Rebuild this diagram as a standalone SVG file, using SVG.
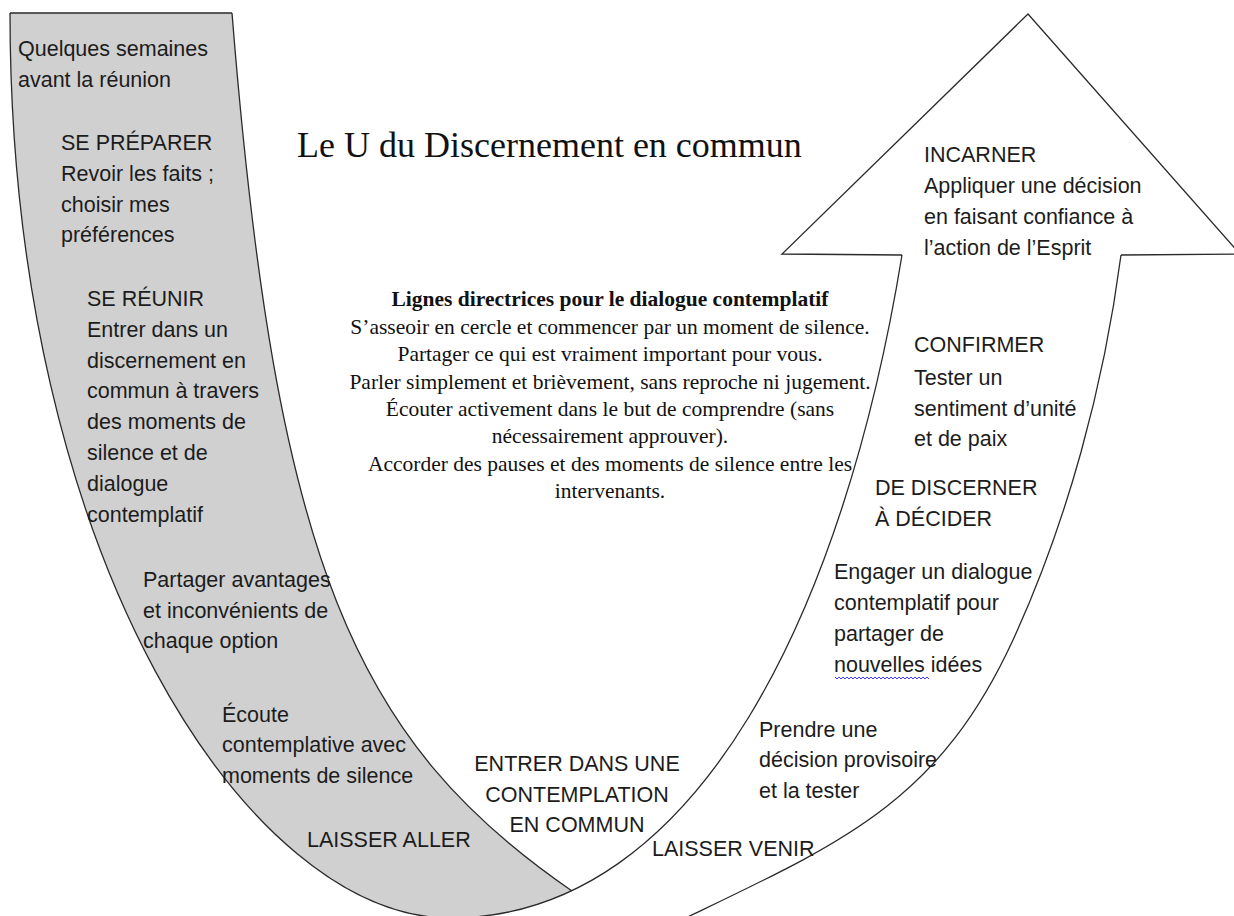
<svg xmlns="http://www.w3.org/2000/svg" width="1234" height="916" viewBox="0 0 1234 916">
<style>
.ln{fill:none;stroke:#2a2a2a;stroke-width:1.3}
.s{font-family:"Liberation Sans",Arial,sans-serif;font-size:21.5px;fill:#1c1c1c}
.t{font-family:"Liberation Serif","Times New Roman",serif;font-size:21.5px;fill:#111}
.b{font-weight:bold}
.ttl{font-family:"Liberation Serif","Times New Roman",serif;font-size:36px;fill:#111}
.c{text-anchor:middle}
</style>
<defs>
<clipPath id="inU">
<path d="M10,13 C10,560 250,918 450,918 C700,918 845,605 902,255 L902,0 L10,0 Z"/>
</clipPath>
</defs>
<rect width="1234" height="916" fill="#fff"/>
<g id="shapes">
<path id="gray-band" d="M10,13 L232,13 C276,563 354,741 572,891 L620,1000 L-20,1000 L-20,13 Z" fill="#d0d0d0" clip-path="url(#inU)"/>
<path id="arrow-head" d="M902,255 L782,254 L1028,14 L1240,254 L1121,255" fill="#fff" class="ln"/>
</g>
<g id="connectors">
<path id="curve-a" class="ln" d="M10,13 C10,560 250,918 450,918 C700,918 845,605 902,255"/>
<path id="top-edge" class="ln" d="M10,13 L232,13"/>
<path id="curve-b" class="ln" d="M232,13 C276,563 354,741 572,891"/>
<path id="curve-c" class="ln" d="M1121,255 C1104,385 1068,520 1013,640 C929,822 820,850 620,950"/>
</g>
<g id="title"><text class="ttl" x="297" y="157">Le U du Discernement en commun</text></g>
<g id="guidelines" class="t c">
<text class="t c b" x="610" y="306">Lignes directrices pour le dialogue contemplatif</text>
<text class="t c" x="610" y="334">S’asseoir en cercle et commencer par un moment de silence.</text>
<text class="t c" x="610" y="361">Partager ce qui est vraiment important pour vous.</text>
<text class="t c" x="610" y="389">Parler simplement et brièvement, sans reproche ni jugement.</text>
<text class="t c" x="610" y="416">Écouter activement dans le but de comprendre (sans</text>
<text class="t c" x="610" y="443">nécessairement approuver).</text>
<text class="t c" x="610" y="471">Accorder des pauses et des moments de silence entre les</text>
<text class="t c" x="610" y="498">intervenants.</text>
</g>
<g id="n-semaines"><text class="s"><tspan x="18" y="56">Quelques semaines</tspan><tspan x="18" y="87">avant la réunion</tspan></text></g>
<g id="n-preparer"><text class="s"><tspan x="61" y="150">SE PRÉPARER</tspan><tspan x="61" y="181">Revoir les faits ;</tspan><tspan x="61" y="212">choisir mes</tspan><tspan x="61" y="242">préférences</tspan></text></g>
<g id="n-reunir"><text class="s"><tspan x="87" y="306">SE RÉUNIR</tspan><tspan x="87" y="337">Entrer dans un</tspan><tspan x="87" y="368">discernement en</tspan><tspan x="87" y="398">commun à travers</tspan><tspan x="87" y="429">des moments de</tspan><tspan x="87" y="460">silence et de</tspan><tspan x="87" y="491">dialogue</tspan><tspan x="87" y="522">contemplatif</tspan></text></g>
<g id="n-partager"><text class="s"><tspan x="143" y="587">Partager avantages</tspan><tspan x="143" y="618">et inconvénients de</tspan><tspan x="143" y="648">chaque option</tspan></text></g>
<g id="n-ecoute"><text class="s"><tspan x="222" y="722">Écoute</tspan><tspan x="222" y="752">contemplative avec</tspan><tspan x="222" y="783">moments de silence</tspan></text></g>
<g id="n-aller"><text class="s" x="307" y="847">LAISSER ALLER</text></g>
<g id="n-entrer"><text class="s c"><tspan x="577" y="771">ENTRER DANS UNE</tspan><tspan x="577" y="802">CONTEMPLATION</tspan><tspan x="577" y="832">EN COMMUN</tspan></text></g>
<g id="n-venir"><text class="s" x="652" y="856">LAISSER VENIR</text></g>
<g id="n-prendre"><text class="s"><tspan x="759" y="737">Prendre une</tspan><tspan x="759" y="767">décision provisoire</tspan><tspan x="759" y="798">et la tester</tspan></text></g>
<g id="n-engager"><text class="s"><tspan x="834" y="579">Engager un dialogue</tspan><tspan x="834" y="610">contemplatif pour</tspan><tspan x="834" y="641">partager de</tspan><tspan x="834" y="672">nouvelles idées</tspan></text>
<path d="M835,677 l2,2 l2,-2 l2,2 l2,-2 l2,2 l2,-2 l2,2 l2,-2 l2,2 l2,-2 l2,2 l2,-2 l2,2 l2,-2 l2,2 l2,-2 l2,2 l2,-2 l2,2 l2,-2 l2,2 l2,-2 l2,2 l2,-2 l2,2 l2,-2 l2,2 l2,-2 l2,2 l2,-2 l2,2 l2,-2 l2,2 l2,-2 l2,2 l2,-2 l2,2 l2,-2 l2,2 l2,-2 l2,2 l2,-2 l2,2 l2,-2 l2,2 l2,-2 l2,2" fill="none" stroke="#3b3bff" stroke-width="1"/></g>
<g id="n-discerner"><text class="s"><tspan x="875" y="495">DE DISCERNER</tspan><tspan x="875" y="526">À DÉCIDER</tspan></text></g>
<g id="n-confirmer"><text class="s"><tspan x="914" y="352">CONFIRMER</tspan><tspan x="914" y="385">Tester un</tspan><tspan x="914" y="416">sentiment d’unité</tspan><tspan x="914" y="446">et de paix</tspan></text></g>
<g id="n-incarner"><text class="s"><tspan x="924" y="162">INCARNER</tspan><tspan x="924" y="193">Appliquer une décision</tspan><tspan x="924" y="224">en faisant confiance à</tspan><tspan x="924" y="255">l’action de l’Esprit</tspan></text></g>
</svg>
